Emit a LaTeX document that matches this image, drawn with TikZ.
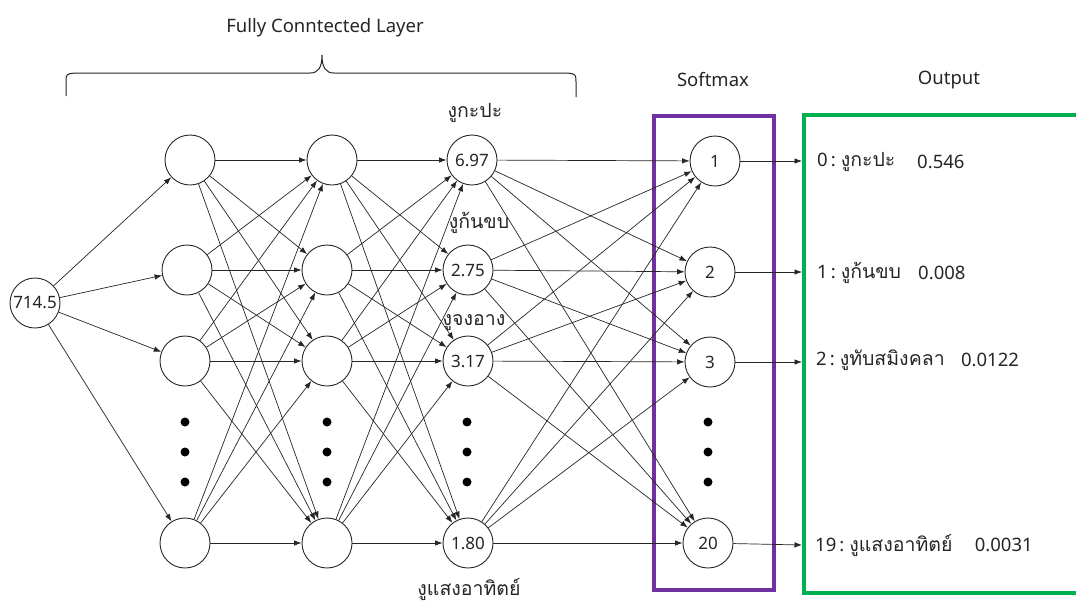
\documentclass[tikz,border=0pt]{standalone}
\usepackage{fontspec}
\setmainfont{Noto Sans}
\newfontfamily\thaifont[Script=Thai]{Loma}
\usetikzlibrary{arrows.meta}
\definecolor{smpurple}{HTML}{7030A0}
\definecolor{outgreen}{HTML}{00B050}
\definecolor{ink}{HTML}{262626}
\newcommand\thx[1]{{\thaifont\fontsize{19.5}{22}\selectfont #1}}
\newcommand\idx[1]{#1\hspace{3pt}:\hspace{5pt}}

\begin{document}
\begin{tikzpicture}[x=1pt,y=-1pt,
  neuron/.style={circle,draw=ink,line width=0.9pt,minimum size=50pt,inner sep=0pt,
    fill=white,text=ink,font=\fontsize{17}{20}\selectfont},
  link/.style={-{Latex[length=7.5pt,width=5.5pt]},line width=0.7pt,draw=ink},
  dotmark/.style={circle,fill=black,minimum size=9pt,inner sep=0pt},
  txt/.style={text=ink,inner sep=0pt,font=\fontsize{18.5}{22}\selectfont},
  frame/.style={line width=4pt},
]
\useasboundingbox (0,0) rectangle (1076,606);
\fill[white] (0,0) rectangle (1076,606);

% headings
\node[txt] (fcl) at (325,28) {Fully Conntected Layer};
\node[txt] (smx) at (713,80) {Softmax};
\node[txt] (outt) at (949,80) {Output};

% curly brace over the fully connected layers
\draw[ink,line width=1pt]
  (66,96) -- (66,83) .. controls (66,74) .. (75,73) -- (310,73)
  .. controls (318,73) and (322,68) .. (322,55)
  .. controls (322,68) and (326,73) .. (334,73) -- (567,73)
  .. controls (576,74) .. (576,83) -- (576,97);

% softmax and output frames
\draw[frame,smpurple] (654,115.5) rectangle (774,589.5);
\draw[frame,outgreen] (1080,115) -- (804,115) -- (804,592.5) -- (1080,592.5);

% input neuron
\node[neuron] (in) at (35,303) {714.5};

% hidden layer 1
\node[neuron] (a1) at (190,160) {};
\node[neuron] (a2) at (187,270) {};
\node[neuron] (a3) at (185,361) {};
\node[neuron] (a4) at (185,543) {};

% hidden layer 2
\node[neuron] (b1) at (332,160) {};
\node[neuron] (b2) at (327,270) {};
\node[neuron] (b3) at (327,361) {};
\node[neuron] (b4) at (327,543) {};

% score layer
\node[neuron] (c1) at (472,160) {6.97};
\node[neuron] (c2) at (468,270) {2.75};
\node[neuron] (c3) at (468,361) {3.17};
\node[neuron] (c4) at (468,543) {1.80};

% softmax layer
\node[neuron] (s1) at (715,161) {1};
\node[neuron] (s2) at (710,272) {2};
\node[neuron] (s3) at (710,362) {3};
\node[neuron] (s4) at (708,543) {20};

% class names over the score neurons
\node[txt] (n1) at (475,113) {\thx{งูกะปะ}};
\node[txt] (n2) at (479,223) {\thx{งูก้นขบ}};
\node[txt] (n3) at (474,323) {\thx{งูจงอาง}};
\node[txt] (n4) at (469,589) {\thx{งูแสงอาทิตย์}};

% vertical ellipses
\foreach \x/\k in {185/a,327/b,467/c,708/s}
  \foreach \y/\m in {422/1,452/2,482/3}
    \node[dotmark] (\k dot\m) at (\x,\y) {};

% connections
\foreach \j in {1,...,4} \draw[link] (in) -- (a\j);
\foreach \i in {1,...,4} \foreach \j in {1,...,4} \draw[link] (a\i) -- (b\j);
\foreach \i in {1,...,4} \foreach \j in {1,...,4} \draw[link] (b\i) -- (c\j);
\foreach \i in {1,...,4} \foreach \j in {1,...,4} \draw[link] (c\i) -- (s\j);

% softmax to output list
\coordinate (o1) at (802,161);
\coordinate (o2) at (802,272);
\coordinate (o3) at (802,362);
\coordinate (o4) at (802,545);
\foreach \j in {1,...,4} \draw[link] (s\j) -- (o\j);

% output entries
\node[txt,anchor=west] (l1) at (817,162) {\idx{0}\thx{งูกะปะ}};
\node[txt,anchor=west] (v1) at (917,162) {0.546};
\node[txt,anchor=west] (l2) at (817,273) {\idx{1}\thx{งูก้นขบ}};
\node[txt,anchor=west] (v2) at (918,273) {0.008};
\node[txt,anchor=west] (l3) at (816,360) {\idx{2}\thx{งูทับสมิงคลา}};
\node[txt,anchor=west] (v3) at ([xshift=16pt]l3.east) {0.0122};
\node[txt,anchor=west] (l4) at (815,545) {\idx{19}\thx{งูแสงอาทิตย์}};
\node[txt,anchor=west] (v4) at ([xshift=22pt]l4.east) {0.0031};
\end{tikzpicture}
\end{document}
